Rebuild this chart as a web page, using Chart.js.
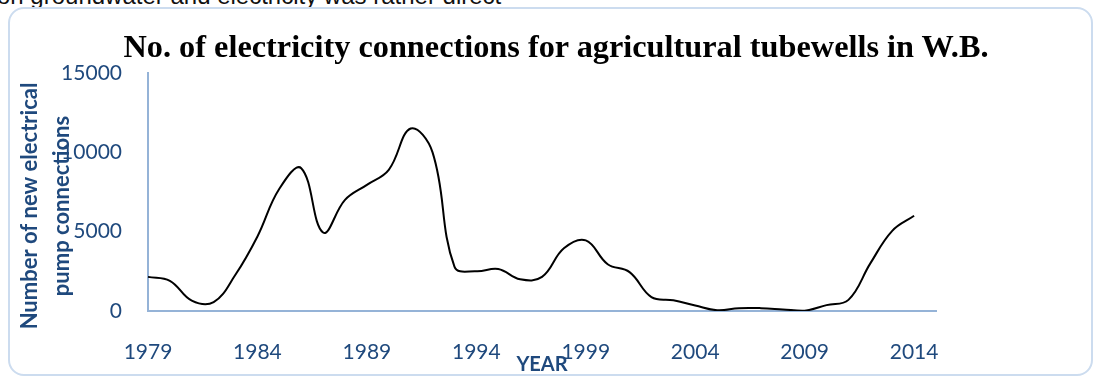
<!DOCTYPE html>
<html>
<head>
<meta charset="utf-8">
<title>No. of electricity connections for agricultural tubewells in W.B.</title>
<script src="https://cdn.jsdelivr.net/npm/chart.js@4"></script>
<style>
  html, body { margin: 0; padding: 0; background: #ffffff; }
  body { width: 1096px; height: 378px; position: relative; overflow: hidden; }
  #prose {
    position: absolute; left: -3px; top: -16px;
    font: 24px/24px "Liberation Sans", Arial, sans-serif; color: #111;
    white-space: nowrap;
  }
  #frame {
    position: absolute; left: 8px; top: 7px; width: 1085px; height: 369px;
    box-sizing: border-box; border: 2px solid #CCDCEF; border-radius: 16px;
  }
  #heading {
    position: absolute; left: 0; width: 1112px; top: 30px; text-align: center;
    font: bold 32.3px/32px "Liberation Serif", "Times New Roman", serif; color: #000;
    white-space: nowrap;
  }
  #wrap { position: absolute; left: 0; top: 0; width: 1096px; height: 378px; }
</style>
</head>
<body>
<div id="prose">on groundwater and electricity was rather direct</div>
<div id="frame"></div>
<div id="wrap"><canvas id="chart" width="1096" height="378"></canvas></div>
<div id="heading">No. of electricity connections for agricultural tubewells in W.B.</div>
<script>
// Years on the category axis (the axis runs one year past the last reading)
const years = ['1979','1980','1981','1982','1983','1984','1985','1986','1987','1988',
               '1989','1990','1991','1992','1993','1994','1995','1996','1997','1998',
               '1999','2000','2001','2002','2003','2004','2005','2006','2007','2008',
               '2009','2010','2011','2012','2013','2014','2015'];

// New electrical pump connections per year
const connections = [2150, 1900, 650, 560, 2300, 4700, 7700, 9000, 4950, 7000,
                     7950, 8900, 11500, 10000, 2800, 2500, 2650, 2000, 2150, 3950,
                     4450, 2950, 2450, 880, 680, 350, 50, 180, 180, 100,
                     20, 370, 700, 3000, 5050, 6000, null];

// Labelled ticks
const yearTicks = ['1979','1984','1989','1994','1999','2004','2009','2014'];
const valueTicks = [0, 5000, 10000, 15000];

const yTitle = ['Number of new electrical', 'pump connections'];
const xTitle = 'YEAR';

const labelBlue = '#1F497D';
const axisBlue = '#95B3D7';
const uiFont = 'Lato, "Open Sans", sans-serif';

// Axis titles drawn beside the plot area
const axisTitles = {
  id: 'axisTitles',
  afterDraw(chart) {
    const { ctx, chartArea: a } = chart;
    ctx.save();
    ctx.fillStyle = labelBlue;
    ctx.textAlign = 'center';
    ctx.textBaseline = 'middle';
    ctx.font = 'bold 20px ' + uiFont;
    ctx.fillText(xTitle, (a.left + a.right) / 2, a.bottom + 54);
    ctx.font = 'bold 22px ' + uiFont;
    ctx.translate(a.left - 118, (a.top + a.bottom) / 2 + 14);
    ctx.rotate(-Math.PI / 2);
    yTitle.forEach((line, i) => ctx.fillText(line, 0, i * 32));
    ctx.restore();
  }
};

new Chart(document.getElementById('chart'), {
  type: 'line',
  data: {
    labels: years,
    datasets: [{
      label: 'Connections',
      data: connections,
      borderColor: '#000000',
      borderWidth: 2,
      pointRadius: 0,
      pointHoverRadius: 0,
      tension: 0.4,
      fill: false
    }]
  },
  options: {
    responsive: false,
    animation: false,
    layout: { padding: { top: 73, right: 160, bottom: 0, left: 0 } },
    plugins: {
      legend: { display: false },
      title: { display: false },
      tooltip: { enabled: false }
    },
    scales: {
      x: {
        type: 'category',
        offset: false,
        grid: { display: false, drawTicks: false },
        border: { display: true, color: axisBlue, width: 2 },
        ticks: {
          autoSkip: false,
          maxRotation: 0,
          minRotation: 0,
          padding: 29,
          color: labelBlue,
          font: { family: uiFont, size: 21 },
          callback(value) {
            const lbl = this.getLabelForValue(value);
            return yearTicks.includes(lbl) ? lbl : '';
          }
        },
        afterFit(scale) { scale.height = 67; }
      },
      y: {
        min: valueTicks[0],
        max: valueTicks[valueTicks.length - 1],
        grid: { display: false, drawTicks: false },
        border: { display: true, color: axisBlue, width: 2 },
        afterBuildTicks(scale) {
          scale.ticks = valueTicks.map(v => ({ value: v }));
        },
        ticks: {
          padding: 26,
          color: labelBlue,
          font: { family: uiFont, size: 21 },
          callback: v => String(v)
        },
        afterFit(scale) { scale.width = 148; }
      }
    }
  },
  plugins: [axisTitles]
});
</script>
</body>
</html>
